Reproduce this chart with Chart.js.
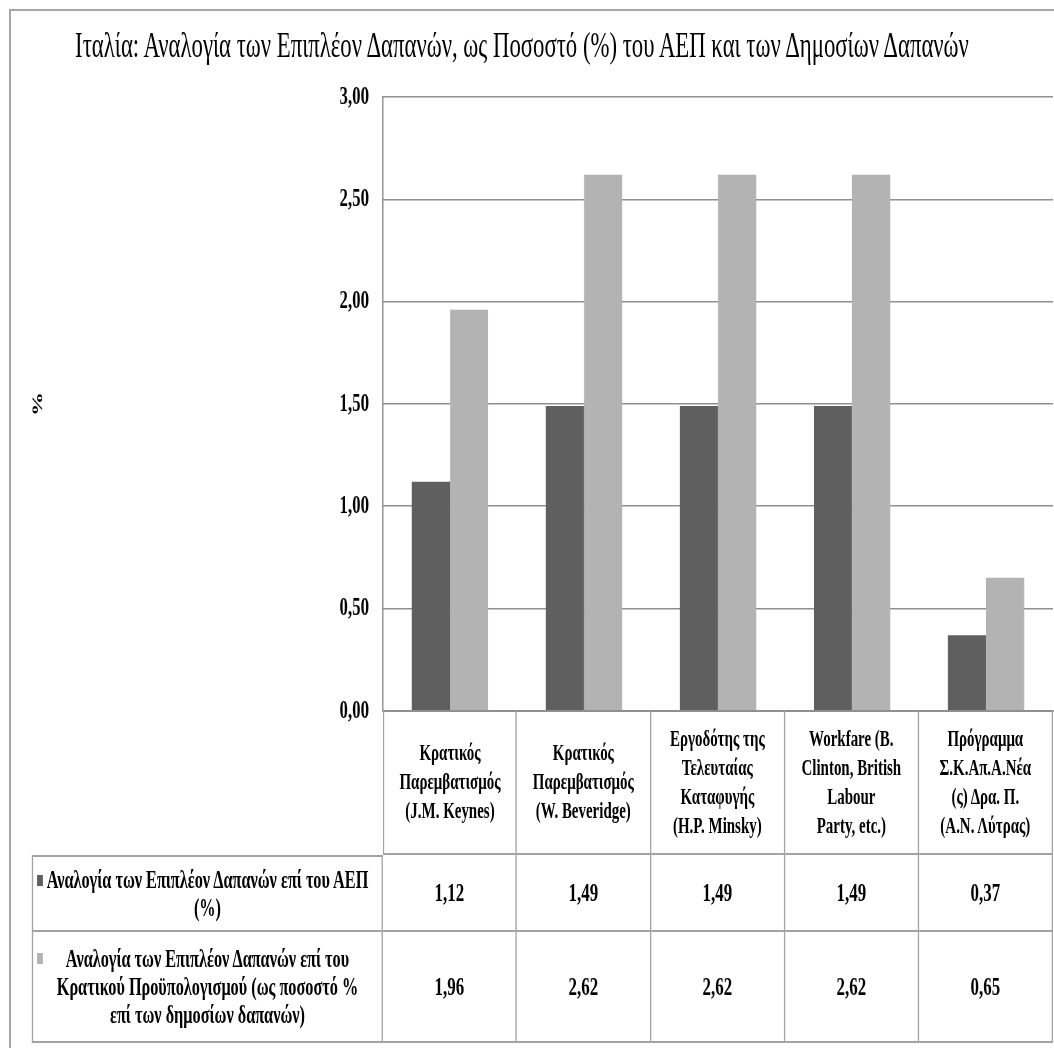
<!DOCTYPE html>
<html>
<head>
<meta charset="utf-8">
<title>Ιταλία</title>
<script src="https://cdn.jsdelivr.net/npm/chart.js@4.4.1/dist/chart.umd.min.js"></script>
<style>
  html, body { margin: 0; padding: 0; background: #fff; }
  body { width: 1054px; height: 1048px; position: relative; overflow: hidden; }
  #frame {
    position: absolute; left: 9px; top: 9px; width: 1200px; height: 1200px;
    border: 2px solid #a6a6a6; box-sizing: border-box;
  }
  #wrap {
    position: absolute; left: 0; top: 0; height: 1048px;
    transform-origin: 0 0;
    font-family: "Liberation Serif", "Times New Roman", serif; color: #000;
  }
  #chart { position: absolute; left: 0; top: 0; }
  #title {
    position: absolute; left: 0; top: 28px; text-align: center;
    font-size: 35px; line-height: 35px; font-weight: normal; white-space: nowrap;
  }
  .cell {
    position: absolute; box-sizing: border-box;
    display: flex; flex-direction: column; align-items: center; justify-content: center;
    text-align: center; font-weight: bold; white-space: nowrap;
    border: 0 solid #a3a3a3; border-right-width: 2px; border-bottom-width: 2px;
  }
  .head { font-size: 23px; line-height: 29px; }
  .lab { font-size: 25px; line-height: 28px; }
  .val { font-size: 26px; }
  .key { position: absolute; width: 9px; height: 11px; }
</style>
</head>
<body>
<div id="frame"></div>
<div id="wrap">
  <canvas id="chart"></canvas>
  <div id="title"></div>
</div>
<script>
// the original picture is squeezed sideways, so everything is laid out wide and then scaled
const S = 0.65;
const ux = v => v / S;

const chartTitle = "Ιταλία: Αναλογία των Επιπλέον Δαπανών, ως Ποσοστό (%) του ΑΕΠ και των Δημοσίων Δαπανών";

const categories = [
  ["Κρατικός", "Παρεμβατισμός", "(J.M. Keynes)"],
  ["Κρατικός", "Παρεμβατισμός", "(W. Beveridge)"],
  ["Εργοδότης της", "Τελευταίας", "Καταφυγής", "(H.P. Minsky)"],
  ["Workfare (B.", "Clinton, British", "Labour", "Party, etc.)"],
  ["Πρόγραμμα", "Σ.Κ.Απ.Α.Νέα", "(ς) Δρα. Π.", "(Α.Ν. Λύτρας)"]
];

const seriesNames = [
  ["Αναλογία των Επιπλέον Δαπανών επί του ΑΕΠ", "(%)"],
  ["Αναλογία των Επιπλέον Δαπανών επί του", "Κρατικού Προϋπολογισμού (ως ποσοστό %", "επί των δημοσίων δαπανών)"]
];

const gdpShare = [1.12, 1.49, 1.49, 1.49, 0.37];
const budgetShare = [1.96, 2.62, 2.62, 2.62, 0.65];

const yTickLabels = ["0,00", "0,50", "1,00", "1,50", "2,00", "2,50", "3,00"];

const fmt = v => v.toFixed(2).replace(".", ",");

document.addEventListener("DOMContentLoaded", () => {
  const wrap = document.getElementById("wrap");
  wrap.style.width = ux(1054) + "px";
  wrap.style.transform = "scaleX(" + S + ")";

  const titleEl = document.getElementById("title");
  titleEl.textContent = chartTitle;
  titleEl.style.width = ux(1044) + "px";

  const canvas = document.getElementById("chart");
  canvas.width = Math.round(ux(1054));
  canvas.height = 748;

  const chart = new Chart(canvas.getContext("2d"), {
    type: "bar",
    data: {
      labels: categories.map(c => c.join(" ")),
      datasets: [
        {
          label: seriesNames[0].join(" "),
          data: gdpShare,
          backgroundColor: "#5f5f5f",
          barPercentage: 1,
          categoryPercentage: 0.57
        },
        {
          label: seriesNames[1].join(" "),
          data: budgetShare,
          backgroundColor: "#b3b3b3",
          barPercentage: 1,
          categoryPercentage: 0.57
        }
      ]
    },
    options: {
      responsive: false,
      animation: false,
      devicePixelRatio: 1,
      layout: { padding: { left: 0, right: canvas.width - ux(1053), top: 97, bottom: 0 } },
      plugins: {
        legend: { display: false },
        tooltip: { enabled: false },
        title: { display: false }
      },
      scales: {
        x: {
          grid: { display: false },
          ticks: { display: false },
          border: { display: true, color: "#8f8f8f", width: 2 },
          afterFit: scale => { scale.height = 0; }
        },
        y: {
          min: 0,
          max: 3,
          ticks: {
            stepSize: 0.5,
            callback: (v, i) => yTickLabels[i],
            color: "#000",
            padding: ux(14),
            font: { family: "Liberation Serif", size: 26, weight: "bold" }
          },
          grid: { color: "#8f8f8f", lineWidth: 1.5, drawTicks: false },
          border: { color: "#8f8f8f", width: 2 },
          title: {
            display: true,
            text: "%",
            color: "#000",
            font: { family: "Liberation Serif", size: 24, weight: "bold" },
            padding: { top: ux(38) - 14, bottom: 0 }
          },
          afterFit: scale => { scale.width = ux(383); }
        }
      }
    }
  });

  // the bottom label padding decides where the x axis sits; grow the canvas until it is at y = 712
  const dy = 712 - chart.chartArea.bottom;
  if (Math.abs(dy) > 0.5) {
    chart.resize(canvas.width, Math.round(canvas.height + dy));
  }

  // data table under the plot, columns taken from the category axis
  const area = chart.chartArea;
  const colW = (area.right - area.left) / categories.length;
  const headTop = area.bottom;
  const rowTops = [855, 932];
  const rowBottom = 1043;
  const labelLeft = ux(32);
  const series = [gdpShare, budgetShare];
  const keyColors = ["#5f5f5f", "#b3b3b3"];

  const addCell = (cls, left, top, width, height, lines) => {
    const d = document.createElement("div");
    d.className = "cell " + cls;
    d.style.left = left + "px";
    d.style.top = top + "px";
    d.style.width = width + "px";
    d.style.height = height + "px";
    lines.forEach(t => {
      const s = document.createElement("div");
      s.textContent = t;
      d.appendChild(s);
    });
    wrap.appendChild(d);
    return d;
  };

  categories.forEach((c, i) => {
    const d = addCell("head", area.left + i * colW, headTop, colW, rowTops[0] - headTop, c);
    if (i === 0) d.style.borderLeftWidth = "2px";
  });

  series.forEach((vals, r) => {
    const top = rowTops[r];
    const h = (r + 1 < rowTops.length ? rowTops[r + 1] : rowBottom) - top;
    const lab = addCell("lab", labelLeft, top, area.left - labelLeft, h, seriesNames[r]);
    lab.style.borderLeftWidth = "2px";
    if (r === 0) lab.style.borderTopWidth = "2px";
    const key = document.createElement("span");
    key.className = "key";
    key.style.background = keyColors[r];
    const firstLine = h / 2 - (seriesNames[r].length - 1) * 28 / 2;
    key.style.left = ux(4) + "px";
    key.style.top = (firstLine - 7) + "px";
    lab.appendChild(key);
    vals.forEach((v, i) => {
      addCell("val", area.left + i * colW, top, colW, h, [fmt(v)]);
    });
  });
});
</script>
</body>
</html>
